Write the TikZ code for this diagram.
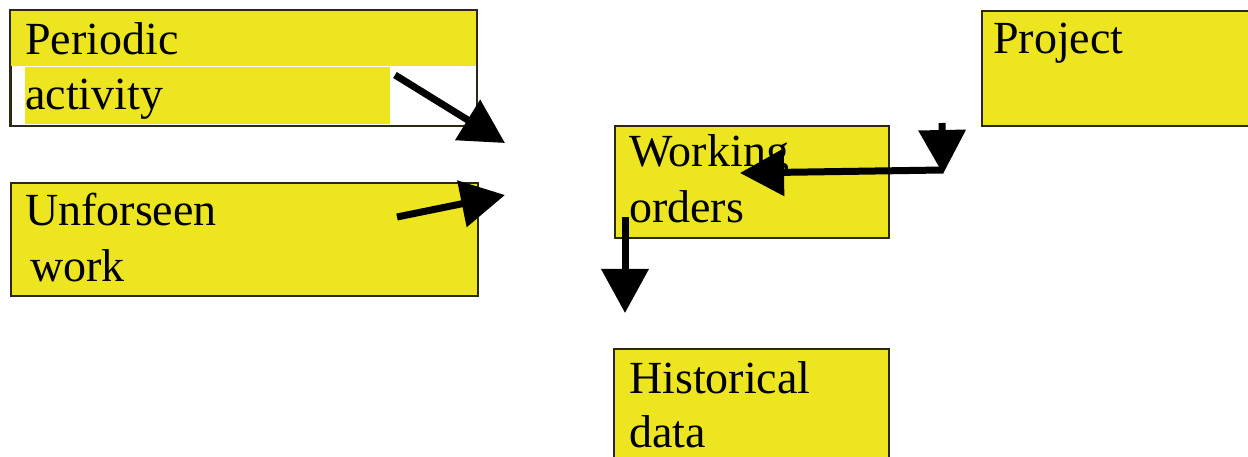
\documentclass[tikz,border=0pt]{standalone}
\usepackage{fontspec}
\setmainfont{Liberation Serif}
\usetikzlibrary{arrows.meta}
\definecolor{boxyellow}{RGB}{237,229,32}
\definecolor{boxline}{RGB}{45,40,20}
\tikzset{
  box/.style={draw=boxline, line width=1.6pt, fill=boxyellow, rectangle, inner sep=0pt, anchor=north west},
  lbl/.style={anchor=base west, inner sep=0pt, font=\fontsize{46}{55}\selectfont, text=black},
  bigarrow/.style={line width=7pt, -{Triangle[length=44pt,width=46pt]}},
}
\begin{document}
\begin{tikzpicture}[x=1pt,y=-1pt]
\useasboundingbox (0,0) rectangle (1248,457);
\fill[white] (0,0) rectangle (1248,457);
% Periodic activity box (partly highlighted)
\node[box, fill=white, minimum width=466pt, minimum height=115pt] (pa) at (10,10) {};
\fill[boxyellow] (11,11) rectangle (476,66);
\fill[boxyellow] (25,67) rectangle (390,124);
\draw[boxline, line width=1.6pt] (pa.north west) rectangle (pa.south east);
\node[lbl] (pat1) at (25,55) {Periodic};
\node[lbl] (pat2) at (25,110) {activity};
% Unforseen work
\node[box, minimum width=467pt, minimum height=113pt] (uw) at (10,182) {};
\node[lbl] (uwt1) at (25,226) {Unforseen};
\node[lbl] (uwt2) at (30,282) {work};
% Project
\node[box, minimum width=290pt, minimum height=115pt] (pr) at (981,10) {};
\node[lbl] (prt1) at (993,54) {Project};
% Working orders
\node[box, minimum width=274pt, minimum height=112pt] (wo) at (614,125) {};
\node[lbl] (wot1) at (629,167) {Working};
\node[lbl] (wot2) at (629,223) {orders};
% Historical data
\node[box, minimum width=275pt, minimum height=130pt] (hd) at (613,348) {};
\node[lbl] (hdt1) at (629,393) {Historical};
\node[lbl] (hdt2) at (629,447) {data};
% arrow endpoints
\coordinate (a1s) at (395,75);
\coordinate (a1e) at (505,143);
\coordinate (a2s) at (397,217);
\coordinate (a2e) at (505,195);
\coordinate (a3s) at (942,123);
\coordinate (a3e) at (943,174);
\coordinate (a4s) at (943,170);
\coordinate (a4e) at (740,173);
\coordinate (a5s) at (625,217);
\coordinate (a5e) at (625,313);
\draw[bigarrow] (a1s) -- (a1e);
\draw[bigarrow] (a2s) -- (a2e);
\draw[bigarrow] (a4s) -- (a4e);
\draw[bigarrow] (a3s) -- (a3e);
\draw[bigarrow] (a5s) -- (a5e);
\end{tikzpicture}
\end{document}
